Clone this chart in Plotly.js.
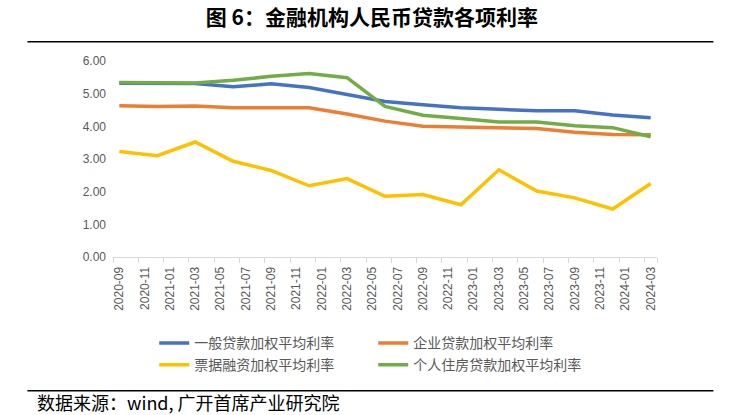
<!DOCTYPE html>
<html>
<head>
<meta charset="utf-8">
<script src="https://cdn.plot.ly/plotly-3.0.1.min.js"></script>
<style>
html,body{margin:0;padding:0;background:#fff;}
#chart{width:754px;height:415px;}
</style>
</head>
<body>
<div id="chart"></div>
<script>
// ---- data ----
const dates = ["2020-09","2020-12","2021-03","2021-06","2021-09","2021-12","2022-03","2022-06","2022-09","2022-12","2023-03","2023-06","2023-09","2023-12","2024-03"];
const generalLoan = [5.32,5.32,5.31,5.21,5.30,5.19,4.98,4.76,4.66,4.57,4.52,4.48,4.48,4.35,4.26];
const corporateLoan = [4.63,4.61,4.62,4.57,4.57,4.57,4.38,4.16,4.00,3.98,3.95,3.93,3.82,3.75,3.74];
const billFinancing = [3.23,3.10,3.52,2.93,2.65,2.18,2.40,1.86,1.91,1.60,2.67,2.02,1.81,1.47,2.25];
const mortgageLoan = [5.34,5.34,5.33,5.41,5.53,5.62,5.49,4.61,4.34,4.24,4.13,4.13,4.02,3.96,3.68];
const seriesNames = ["一般贷款加权平均利率","企业贷款加权平均利率","票据融资加权平均利率","个人住房贷款加权平均利率"];
const tickLabels = ["2020-09","2020-11","2021-01","2021-03","2021-05","2021-07","2021-09","2021-11","2022-01","2022-03","2022-05","2022-07","2022-09","2022-11","2023-01","2023-03","2023-05","2023-07","2023-09","2023-11","2024-01","2024-03"];
const titleText = "图 6：金融机构人民币贷款各项利率";
const sourceText = "数据来源：wind, 广开首席产业研究院";

// month index helper
function mIdx(s){ const p=s.split("-"); return (parseInt(p[0])-2020)*12 + parseInt(p[1]) - 9; }
const xs = dates.map(mIdx);
const tickPos = tickLabels.map(mIdx);
const minorPos = tickPos.map(v=>v-0.5).concat([tickPos[tickPos.length-1]+0.5]);

const colors = ["#4472C4","#ED7D31","#FFC000","#70AD47"];
const vals = [generalLoan, corporateLoan, billFinancing, mortgageLoan];
const legendIds = ["legend","legend","legend2","legend2"];
const traces = vals.map((v,i)=>({
  x: xs, y: v, type:"scatter", mode:"lines", name: seriesNames[i],
  line:{color:colors[i], width:3.5}, legend: legendIds[i]
}));

// geometry (pixels)
const L=112.7, R=657.5, T=61, B=257.5;
const W=754, H=415;
const pw=R-L, ph=B-T;
const px = v => (v-L)/pw;
const py = v => (B-v)/ph;

const legendCommon = {
  orientation:"h", xanchor:"left", yanchor:"middle",
  font:{family:"Noto Sans CJK SC, sans-serif", size:14, color:"#595959"},
  bgcolor:"rgba(0,0,0,0)", borderwidth:0,
  entrywidth:174, entrywidthmode:"pixels", itemwidth:30,
  traceorder:"normal"
};

const layout = {
  width:W, height:H,
  margin:{l:L, r:W-R, t:T, b:H-B, pad:0},
  paper_bgcolor:"#fff", plot_bgcolor:"#fff",
  showlegend:true,
  title:{
    text:"<b>"+titleText+"</b>",
    font:{family:"Noto Sans CJK SC, sans-serif", size:21, color:"#000"},
    x:px(372), xref:"paper", xanchor:"center",
    y:1-18/H, yref:"container", yanchor:"middle"
  },
  xaxis:{
    type:"linear", range:[-0.5, mIdx("2024-03")+0.5],
    tickmode:"array", tickvals:tickPos, ticktext:tickLabels,
    tickangle:-90, ticks:"", showgrid:false, zeroline:false,
    showline:true, linecolor:"#d9d9d9", linewidth:1,
    tickfont:{family:"Liberation Sans, Arial, sans-serif", size:12, color:"#595959"},
    ticklabelstandoff:4,
    minor:{tickmode:"array", tickvals:minorPos, ticks:"outside", ticklen:5, tickcolor:"#d9d9d9", tickwidth:1, showgrid:false},
    fixedrange:true
  },
  yaxis:{
    range:[0,6], tickmode:"linear", tick0:0, dtick:1, tickformat:".2f",
    showgrid:false, zeroline:false, showline:false, ticks:"",
    tickfont:{family:"Liberation Sans, Arial, sans-serif", size:12, color:"#595959"},
    ticklabelstandoff:6,
    fixedrange:true
  },
  legend: Object.assign({}, legendCommon, {x:px(154), y:py(344)}),
  legend2: Object.assign({}, legendCommon, {x:px(154), y:py(366)}),
  shapes:[
    {type:"line", xref:"paper", yref:"paper", x0:px(27), x1:px(714), y0:py(41.7), y1:py(41.7), line:{color:"#000", width:1.5}},
    {type:"line", xref:"paper", yref:"paper", x0:px(27), x1:px(714), y0:py(391.7), y1:py(391.7), line:{color:"#000", width:1.5}}
  ],
  annotations:[
    {text:sourceText, xref:"paper", yref:"paper", x:px(35), y:py(403), xanchor:"left", yanchor:"middle", showarrow:false,
     font:{family:"Noto Sans CJK SC, sans-serif", size:18, color:"#000"}}
  ]
};

Plotly.newPlot("chart", traces, layout, {staticPlot:true, displayModeBar:false});
</script>
</body>
</html>
